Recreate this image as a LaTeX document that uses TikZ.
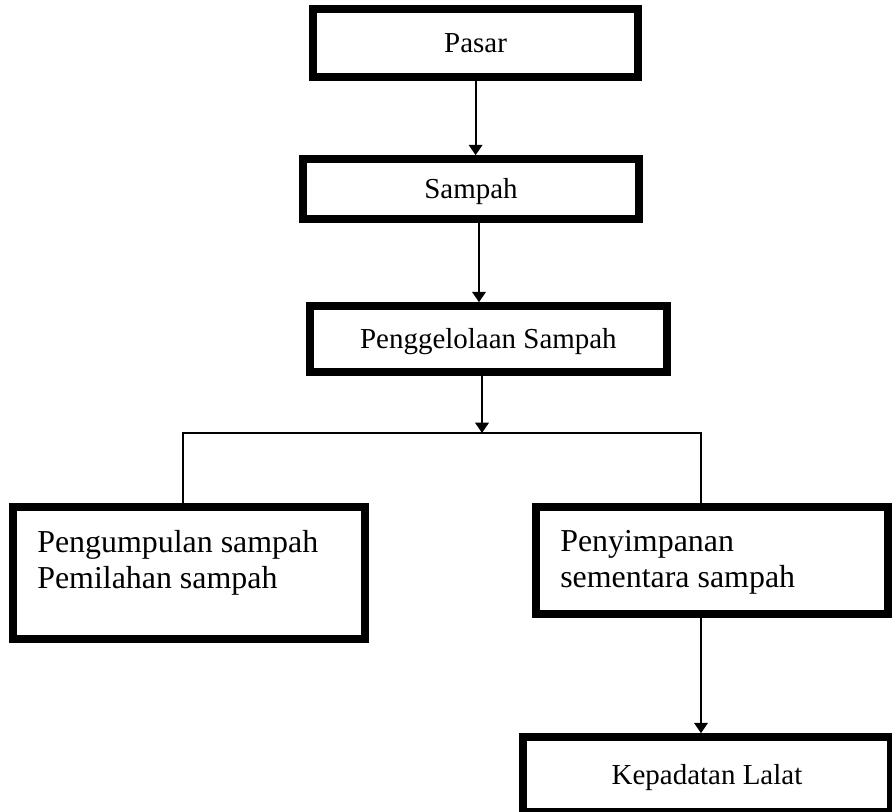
\documentclass[tikz,border=0pt]{standalone}
\usepackage{fontspec}
\setmainfont{Liberation Serif}
\usetikzlibrary{arrows.meta}

\begin{document}
\begin{tikzpicture}[
    box/.style={draw, line width=0.19cm, inner sep=0pt,
                font=\fontsize{20.6}{24}\selectfont, text height=18.5pt, text depth=4.9pt},
    body/.style={inner sep=0pt, align=left, font=\fontsize{22.7}{25.6}\selectfont},
    flow/.style={-{Triangle[length=0.26cm, width=0.34cm]}, line width=1.4pt},
    link/.style={line width=0.8pt},
]
\useasboundingbox (0,0) rectangle (22.3,-20.3);

% --- alur atas ---
\node[box, minimum width=8.125cm, minimum height=1.7cm] (pasar) at (11.89,-1.075) {Pasar};
\node[box, minimum width=8.4cm, minimum height=1.5cm] (sampah) at (11.775,-4.725) {Sampah};
\node[box, minimum width=8.925cm, minimum height=1.65cm] (kelola) at (12.21,-8.475) {Penggelolaan Sampah};

% --- cabang bawah ---
\node[box, minimum width=8.8cm, minimum height=3.3cm] (kumpul) at (4.725,-14.325) {};
\node[body, anchor=north west] (kumpultxt) at (0.925,-13.25)
    {Pengumpulan sampah\\Pemilahan sampah};
\node[box, minimum width=8.8cm, minimum height=2.675cm] (simpan) at (17.8,-14.0125) {};
\node[body, anchor=north west] (simpantxt) at (14.0,-13.25)
    {Penyimpanan\\sementara sampah};
\node[box, minimum width=9.2cm, minimum height=1.875cm] (lalat) at (17.675,-19.3625) {Kepadatan Lalat};

\coordinate (split) at (12.05,-10.825);
\coordinate (lsplit) at (4.575,-10.825);
\coordinate (rsplit) at (17.525,-10.825);

\draw[flow] (pasar.south) -- (pasar.south |- sampah.north);
\draw[flow] ([xshift=2mm]sampah.south) -- ([xshift=2mm]sampah.south |- kelola.north);
\draw[flow] (kelola.south -| split) -- (split);
\draw[link] (lsplit |- kumpul.north) -- (lsplit) -- (rsplit) -- (rsplit |- simpan.north);
\draw[flow] (rsplit |- simpan.south) -- (rsplit |- lalat.north);

\end{tikzpicture}
\end{document}
